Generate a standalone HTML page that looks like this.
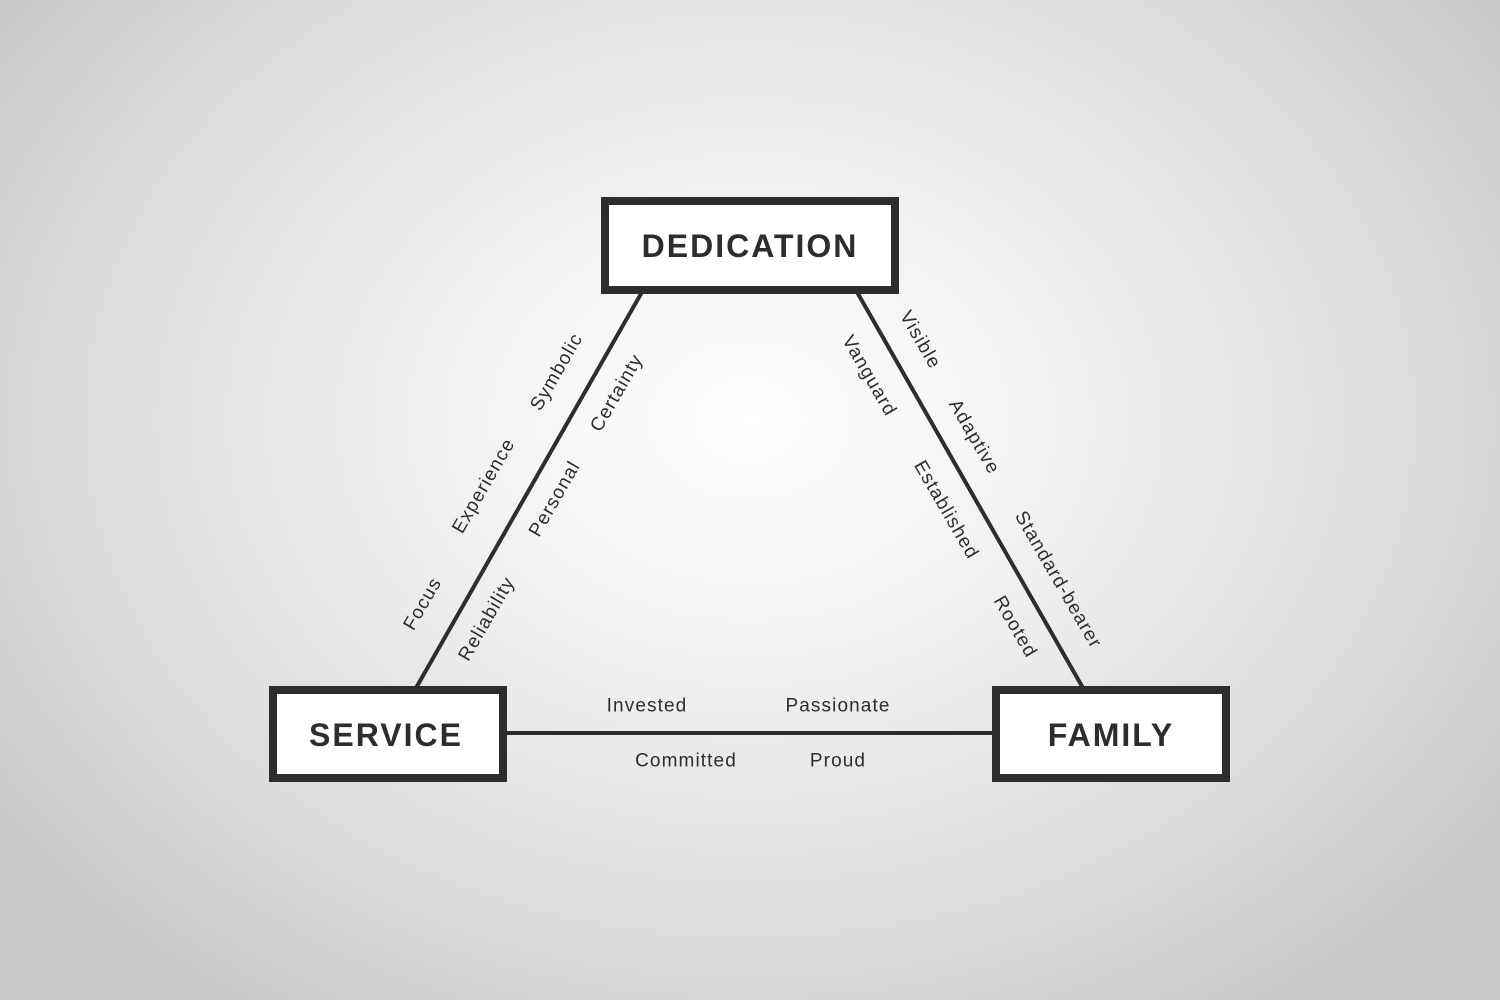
<!DOCTYPE html>
<html><head><style>
html,body{margin:0;padding:0;width:1500px;height:1000px;overflow:hidden}
body{background:radial-gradient(ellipse 900px 700px at 750px 420px,#ffffff 0%,#f1f1f1 35%,#dcdcdc 75%,#c9c9c9 100%)}
svg{position:absolute;left:0;top:0}
text{font-family:"Liberation Sans","DejaVu Sans",sans-serif;fill:#2b2d2f}
.l{font-size:19px;text-anchor:middle;dominant-baseline:central;letter-spacing:1.1px}
.b{font-size:32px;font-weight:bold;text-anchor:middle;dominant-baseline:central;letter-spacing:2px}
</style></head><body>
<svg width="1500" height="1000" viewBox="0 0 1500 1000">
<g stroke="#2b2d2f" stroke-width="4" fill="none">
<line x1="642" y1="292" x2="416" y2="688"/>
<line x1="857" y1="292" x2="1083" y2="688"/>
<line x1="505" y1="733" x2="994" y2="733"/>
</g>
<g stroke="#2b2d2f" stroke-width="8" fill="#fff">
<rect x="605" y="201" width="290" height="89"/>
<rect x="273" y="690" width="230" height="88"/>
<rect x="996" y="690" width="230" height="88"/>
</g>
<text class="b" x="750" y="246">DEDICATION</text>
<text class="b" x="386" y="735">SERVICE</text>
<text class="b" x="1111" y="735">FAMILY</text>
<g>
<text class="l" transform="translate(557,372) rotate(-60)">Symbolic</text>
<text class="l" transform="translate(484,486) rotate(-60)">Experience</text>
<text class="l" transform="translate(423,604) rotate(-60)">Focus</text>
<text class="l" transform="translate(617,393) rotate(-60)">Certainty</text>
<text class="l" transform="translate(555,499) rotate(-60)">Personal</text>
<text class="l" transform="translate(487,619) rotate(-60)">Reliability</text>
<text class="l" transform="translate(869,376) rotate(60)">Vanguard</text>
<text class="l" transform="translate(946,510) rotate(60)">Established</text>
<text class="l" transform="translate(1015,627) rotate(60)">Rooted</text>
<text class="l" transform="translate(920,340) rotate(60)">Visible</text>
<text class="l" transform="translate(974,437) rotate(60)">Adaptive</text>
<text class="l" transform="translate(1058,580) rotate(60)">Standard-bearer</text>
<text class="l" x="647" y="706">Invested</text>
<text class="l" x="838" y="706">Passionate</text>
<text class="l" x="686" y="761">Committed</text>
<text class="l" x="838" y="761">Proud</text>
</g>
</svg>
</body></html>
